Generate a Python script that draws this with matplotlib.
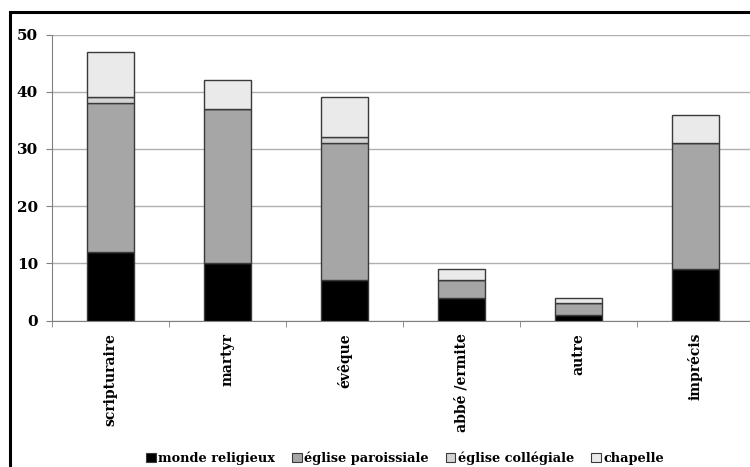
import matplotlib
matplotlib.use("Agg")
import matplotlib.pyplot as plt
from matplotlib.patches import Rectangle, Patch
import numpy as np

categories = ["scripturaire", "martyr", "évêque", "abbé /ermite", "autre", "imprécis"]
monde_religieux = [12, 10, 7, 4, 1, 9]
eglise_paroissiale = [26, 27, 24, 3, 2, 22]
eglise_collegiale = [1, 0, 1, 0, 0, 0]
chapelle = [8, 5, 7, 2, 1, 5]
series_names = ["monde religieux", "église paroissiale", "église collégiale", "chapelle"]
yticks = [0, 10, 20, 30, 40, 50]

colors = ["#000000", "#a6a6a6", "#d4d4d4", "#eaeaea"]
edge = "#3a3a3a"

plt.rcParams['font.family'] = ['DejaVu Serif']
plt.rcParams['font.weight'] = 'bold'

W, H = 750, 467
fig = plt.figure(figsize=(W/100, H/100), dpi=100)
ax = fig.add_axes([52/W, 1-320.5/H, (754-52)/W, (320.5-34.5)/H])

x = np.arange(len(categories))
data = [monde_religieux, eglise_paroissiale, eglise_collegiale, chapelle]
bottom = np.zeros(len(categories))
for vals, c, name in zip(data, colors, series_names):
    vals = np.array(vals, dtype=float)
    ax.bar(x, vals, width=0.4, bottom=bottom, color=c, edgecolor=edge,
           linewidth=1.0, label=name, zorder=3)
    bottom += vals

ax.set_xlim(-0.5, len(categories)-0.5)
ax.set_ylim(0, 50)
ax.set_yticks(yticks)
ax.set_yticklabels([str(v) for v in yticks], fontsize=11, fontweight='bold')
ax.yaxis.grid(True, color="#b0b0b0", linewidth=1, zorder=0)
ax.set_axisbelow(True)

ax.set_xticks(x)
ax.set_xticklabels(categories, rotation=90, fontsize=10, fontweight='bold', va='top')
ax.set_xticks(np.arange(len(categories)+1)-0.5, minor=True)
ax.tick_params(axis='x', which='major', length=0, pad=9)
ax.tick_params(axis='x', which='minor', length=4, color="#808080", direction='out')
ax.tick_params(axis='y', length=4, color="#808080", pad=6)

for s in ['top', 'right']:
    ax.spines[s].set_visible(False)
ax.spines['left'].set_color("#808080")
ax.spines['bottom'].set_color("#808080")

handles = [Patch(facecolor=c, edgecolor=edge, linewidth=0.8) for c in colors]
fig.legend(handles, series_names, loc='center', bbox_to_anchor=(405/W, 1-458/H),
           ncol=4, frameon=False, handlelength=0.75, handleheight=0.75,
           handletextpad=0.2, columnspacing=1.3, prop={'weight': 'bold', 'size': 9.3},
           borderpad=0)

border = Rectangle((10/W, -0.1), 1.2, 1 - 12/H + 0.1, transform=fig.transFigure,
                   fill=False, edgecolor='black', linewidth=2.2, clip_on=False)
fig.patches.append(border)

fig.savefig("out.png", dpi=100)
